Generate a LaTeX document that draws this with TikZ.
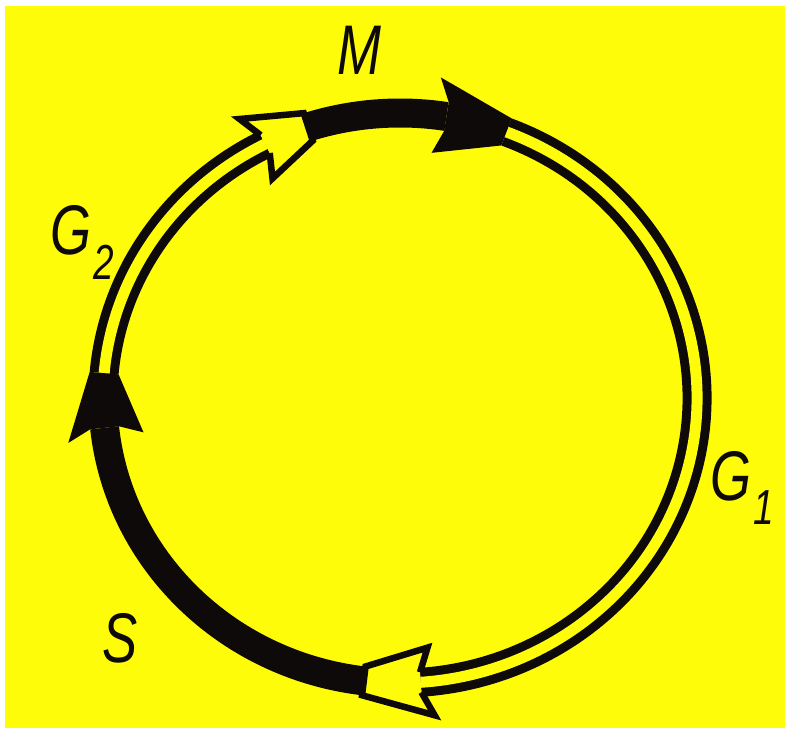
\documentclass[tikz,border=0pt]{standalone}
\usepackage{fontspec}
\setsansfont{Liberation Sans}[FakeStretch=0.75]
\usepackage{tikz}

\definecolor{paper}{RGB}{255,252,10}
\definecolor{ink}{RGB}{15,10,10}
\tikzset{
    phase/.style={draw=ink, line width=0.58cm},
    gapphase/.style={draw=ink, line width=0.18cm, double=paper, double distance=0.22cm},
    blackhead/.style={fill=ink},
    whitehead/.style={fill=paper, draw=ink, line width=0.13cm, line join=miter},
    phaselabel/.style={font=\sffamily\itshape\fontsize{40}{44}\selectfont, text=ink, inner sep=0pt, anchor=base west}
}
\newcommand{\phasesub}[1]{\kern1pt\raisebox{-14pt}{\fontsize{28}{30}\selectfont #1}}

\begin{document}
\begin{tikzpicture}[x=0.02cm, y=0.02cm]
    % Background
    \fill[white] (0,0) rectangle (785,728);
    \fill[paper] (5,0) rectangle (785,722);

    \begin{scope}[shift={(400,330)}]
        % G1 and G2 (double lines)
        \draw[gapphase] (69:297 and 285) arc[start angle=69, end angle=-86, x radius=297, y radius=285];
        \draw[gapphase] (175:297 and 285) arc[start angle=175, end angle=117, x radius=297, y radius=285];

        % Open heads
        \filldraw[whitehead] (274:307 and 295) -- (276:331 and 319) -- (263:311.5 and 299.5)
            -- (263:282.5 and 270.5) -- (276:263 and 251) -- (274:287 and 275);
        \filldraw[whitehead] (117:307 and 295) -- (119:331 and 319) -- (108:311.5 and 299.5)
            -- (108:282.5 and 270.5) -- (119:263 and 251) -- (117:287 and 275);

        % M and S (thick lines)
        \draw[phase] (108:297 and 285) arc[start angle=108, end angle=81, x radius=297, y radius=285];
        \draw[phase] (263:297 and 285) arc[start angle=263, end angle=186, x radius=297, y radius=285];

        % Filled heads
        \fill[blackhead] (81:311.5 and 299.5) -- (83:335 and 323) -- (69:311.5 and 299.5)
            -- (69:282.5 and 270.5) -- (83:259 and 247) -- (81:282.5 and 270.5) -- cycle;
        \fill[blackhead] (186:311.5 and 299.5) -- (188:335 and 323) -- (175:311.5 and 299.5)
            -- (175:282.5 and 270.5) -- (188:259 and 247) -- (186:282.5 and 270.5) -- cycle;
    \end{scope}

    % Labels
    \node[phaselabel] (mlabel) at (337,653) {M};
    \node[phaselabel] (gtwolabel) at (50,473) {G\phasesub{2}};
    \node[phaselabel] (gonelabel) at (710,228) {G\phasesub{1}};
    \node[phaselabel] (slabel) at (102,66) {S};
\end{tikzpicture}
\end{document}
